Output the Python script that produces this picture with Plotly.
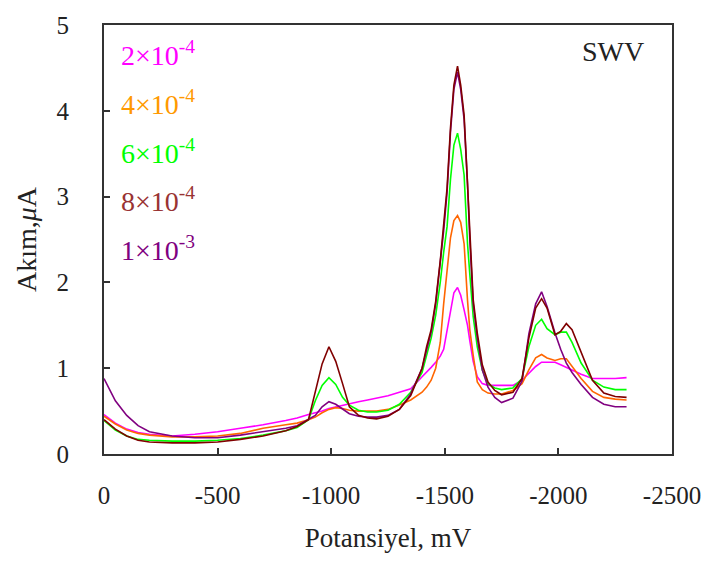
import plotly.graph_objects as go

# Potential (mV)
potential = [0, -50, -100, -150, -200, -300, -400, -500, -600, -700, -800, -850, -900,
             -930, -960, -990, -1020, -1050, -1080, -1120, -1160, -1200, -1250, -1300,
             -1350, -1400, -1420, -1440, -1460, -1480, -1495, -1510, -1525, -1540, -1556,
             -1570, -1585, -1600, -1610, -1625, -1643, -1665, -1690, -1720, -1750, -1800,
             -1840, -1870, -1900, -1926, -1950, -1985, -2010, -2035, -2060, -2100, -2150,
             -2200, -2250, -2300]

# Current (uA) per concentration
c_2e4 = [0.46, 0.36, 0.29, 0.25, 0.23, 0.21, 0.23, 0.26, 0.30, 0.34, 0.39, 0.42, 0.46,
         0.48, 0.50, 0.53, 0.55, 0.57, 0.59, 0.61, 0.63, 0.65, 0.68, 0.72,
         0.76, 0.90, 0.95, 1.01, 1.07, 1.14, 1.22, 1.45, 1.68, 1.88, 1.94,
         1.85, 1.68, 1.50, 1.32, 1.08, 0.90, 0.82, 0.80, 0.80, 0.80, 0.80,
         0.86, 0.94, 1.02, 1.07, 1.07, 1.07, 1.04, 1.01, 0.98, 0.93, 0.88,
         0.88, 0.88, 0.89]
c_4e4 = [0.44, 0.35, 0.28, 0.24, 0.22, 0.20, 0.20, 0.21, 0.24, 0.30, 0.34, 0.36, 0.40,
         0.43, 0.48, 0.52, 0.54, 0.53, 0.51, 0.50, 0.50, 0.50, 0.52, 0.57,
         0.63, 0.72, 0.78, 0.86, 1.00, 1.30, 1.75, 2.10, 2.52, 2.72, 2.78,
         2.70, 2.45, 1.79, 1.45, 1.15, 0.84, 0.75, 0.71, 0.70, 0.70, 0.74,
         0.82, 0.98, 1.12, 1.16, 1.12, 1.09, 1.11, 1.11, 1.02, 0.88, 0.73,
         0.66, 0.64, 0.63]
c_6e4 = [0.39, 0.28, 0.21, 0.17, 0.16, 0.15, 0.15, 0.16, 0.18, 0.22, 0.27, 0.31, 0.40,
         0.62, 0.80, 0.89, 0.81, 0.66, 0.57, 0.51, 0.49, 0.49, 0.51, 0.58,
         0.72, 0.95, 1.15, 1.35, 1.62, 2.00, 2.35, 2.65, 3.20, 3.60, 3.74,
         3.55, 3.25, 2.45, 2.10, 1.60, 1.25, 0.98, 0.82, 0.77, 0.75, 0.77,
         0.88, 1.25, 1.50, 1.57, 1.46, 1.39, 1.42, 1.42, 1.30, 1.06, 0.86,
         0.78, 0.75, 0.75]
c_8e4 = [0.40, 0.29, 0.21, 0.16, 0.14, 0.13, 0.13, 0.14, 0.17, 0.21, 0.27, 0.32, 0.40,
         0.72, 1.05, 1.25, 1.08, 0.82, 0.55, 0.45, 0.42, 0.41, 0.44, 0.52,
         0.68, 1.00, 1.25, 1.45, 1.78, 2.25, 2.65, 3.10, 3.80, 4.30, 4.52,
         4.30, 3.95, 3.20, 2.55, 1.80, 1.41, 1.04, 0.84, 0.74, 0.69, 0.72,
         0.88, 1.35, 1.70, 1.81, 1.70, 1.39, 1.43, 1.52, 1.45, 1.18, 0.86,
         0.71, 0.67, 0.66]
c_1e3 = [0.88, 0.62, 0.45, 0.33, 0.26, 0.21, 0.19, 0.19, 0.22, 0.26, 0.30, 0.33, 0.40,
         0.45, 0.55, 0.61, 0.58, 0.52, 0.47, 0.44, 0.43, 0.43, 0.45, 0.52,
         0.70, 1.00, 1.22, 1.42, 1.75, 2.20, 2.60, 3.05, 3.75, 4.25, 4.45,
         4.25, 3.90, 3.15, 2.50, 1.75, 1.35, 0.98, 0.78, 0.66, 0.60, 0.65,
         0.85, 1.40, 1.75, 1.89, 1.72, 1.41, 1.22, 1.06, 0.95, 0.81, 0.66,
         0.58, 0.55, 0.55]

series_names = ["2×10<sup>-4</sup>", "4×10<sup>-4</sup>", "6×10<sup>-4</sup>",
                "8×10<sup>-4</sup>", "1×10<sup>-3</sup>"]
series_values = [c_2e4, c_4e4, c_6e4, c_8e4, c_1e3]
line_colors = ["#FF00FF", "#FF6600", "#00FF00", "#800000", "#800080"]
text_colors = ["#FF00FF", "#FF9900", "#00FF00", "#993333", "#800080"]

x_tickvals = [0, -500, -1000, -1500, -2000, -2500]
x_ticktext = ["0", "-500", "-1000", "-1500", "-2000", "-2500"]
y_tickvals = [0, 1, 2, 3, 4, 5]

FONT = "Liberation Serif, Times New Roman, serif"

fig = go.Figure()
draw_order = [0, 1, 2, 4, 3]
for i in draw_order:
    fig.add_trace(go.Scatter(x=potential, y=series_values[i], mode="lines",
                             line=dict(color=line_colors[i], width=1.6),
                             name=series_names[i], showlegend=False))

for i, (name, col) in enumerate(zip(series_names, text_colors)):
    fig.add_annotation(xref="paper", yref="paper", x=0.027, y=0.933 - i * 0.1135,
                       xanchor="left", yanchor="middle", showarrow=False,
                       text=name, font=dict(family=FONT, size=28, color=col))

fig.add_annotation(xref="paper", yref="paper", x=0.955, y=0.938, xanchor="right",
                   yanchor="middle", showarrow=False, text="SWV",
                   font=dict(family=FONT, size=28, color="#222222"))

fig.update_layout(
    width=713, height=572,
    margin=dict(l=104, r=34, t=15, b=118),
    paper_bgcolor="white", plot_bgcolor="white",
    font=dict(family=FONT, size=25, color="#222222"),
    xaxis=dict(range=[0, -2500], tickvals=x_tickvals, ticktext=x_ticktext,
               ticks="inside", ticklen=6, tickwidth=2, tickcolor="#333333",
               showline=True, linecolor="#333333", linewidth=2, mirror=True,
               showgrid=False, zeroline=False, ticklabelstandoff=18,
               title=dict(text="Potansiyel, mV", font=dict(family=FONT, size=27), standoff=20)),
    yaxis=dict(range=[0, 5], tickvals=y_tickvals,
               ticks="inside", ticklen=6, tickwidth=2, tickcolor="#333333",
               showline=True, linecolor="#333333", linewidth=2, mirror=True,
               showgrid=False, zeroline=False, ticklabelstandoff=28,
               title=dict(text="Akım,<i>μ</i>A", font=dict(family=FONT, size=28), standoff=12)),
)

fig.write_html("out.html")
